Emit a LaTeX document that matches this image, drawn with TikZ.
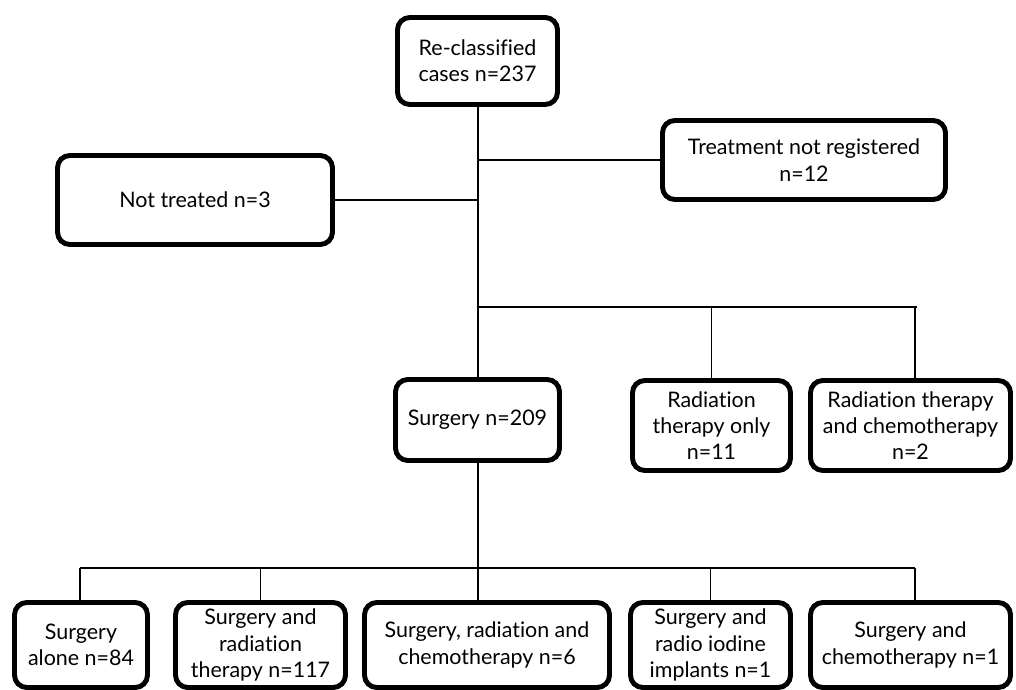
\documentclass[tikz,border=0pt]{standalone}
\usepackage{fontspec}
\setmainfont{Lato}[Ligatures=NoCommon]
\usetikzlibrary{calc}

\tikzset{
  flowbox/.style 2 args={draw=black, line width=2.8pt, rounded corners=7pt,
    minimum width=#1*0.02cm, minimum height=#2*0.02cm, inner sep=0pt,
    align=center, font=\fontsize{12.2}{15}\selectfont},
  link/.style={draw=black, line width=1.1pt}
}

\begin{document}
\begin{tikzpicture}[x=0.02cm, y=-0.02cm]
        \useasboundingbox (0,0) rectangle (1016,689);

        % upper part
        \node[flowbox={160}{87}] (reclass) at (477.5,61) {Re-classified\\cases n=237};
        \node[flowbox={283}{79}] (notreg) at (804,160) {Treatment not registered\\n=12};
        \node[flowbox={275}{89}] (nottreat) at (195,200) {Not treated n=3};
        \node[flowbox={164}{81}] (surgery) at (477.5,420) {Surgery n=209};
        \node[flowbox={158}{90}] (radonly) at (711.5,425.5) {Radiation\\therapy only\\n=11};
        \node[flowbox={200}{90}] (radchemo) at (910.5,425.5) {Radiation therapy\\and chemotherapy\\n=2};

        % lower row
        \node[flowbox={133}{85}] (alone) at (81,645) {Surgery\\alone n=84};
        \node[flowbox={170}{85}] (surgrad) at (260.5,645) {Surgery and\\radiation\\therapy n=117};
        \node[flowbox={245}{85}] (surgradchemo) at (487,645) {Surgery, radiation and\\chemotherapy n=6};
        \node[flowbox={160}{85}] (iodine) at (710.5,645) {Surgery and\\radio iodine\\implants n=1};
        \node[flowbox={200}{85}] (surgchemo) at (910.5,645) {Surgery and\\chemotherapy n=1};

        \coordinate (spine) at (478,0);
        \coordinate (split) at (478,307);
        \coordinate (rightend) at (917,307);
        \coordinate (radtap) at (915,307);
        \coordinate (lowbar) at (478,568);
        \coordinate (lowleft) at (80,568);
        \coordinate (lowright) at (915,568);

        \draw[link] (spine |- reclass.south) -- (spine |- surgery.north);
        \draw[link] (spine |- notreg.west) -- (notreg.west);
        \draw[link] (spine |- nottreat.east) -- (nottreat.east);

        \draw[link] (split) -- (rightend);
        \draw[link] (split -| radonly.north) -- (radonly.north);
        \draw[link] (radtap) -- (radtap |- radchemo.north);

        \draw[link] (spine |- surgery.south) -- (lowbar);
        \draw[link] (lowleft) -- (lowright);
        \draw[link] (lowleft) -- (lowleft |- alone.north);
        \draw[link] (lowbar -| surgrad.north) -- (surgrad.north);
        \draw[link] (lowbar) -- (lowbar |- surgradchemo.north);
        \draw[link] (lowbar -| iodine.north) -- (iodine.north);
        \draw[link] (lowright) -- (lowright |- surgchemo.north);
    \end{tikzpicture}
\end{document}
